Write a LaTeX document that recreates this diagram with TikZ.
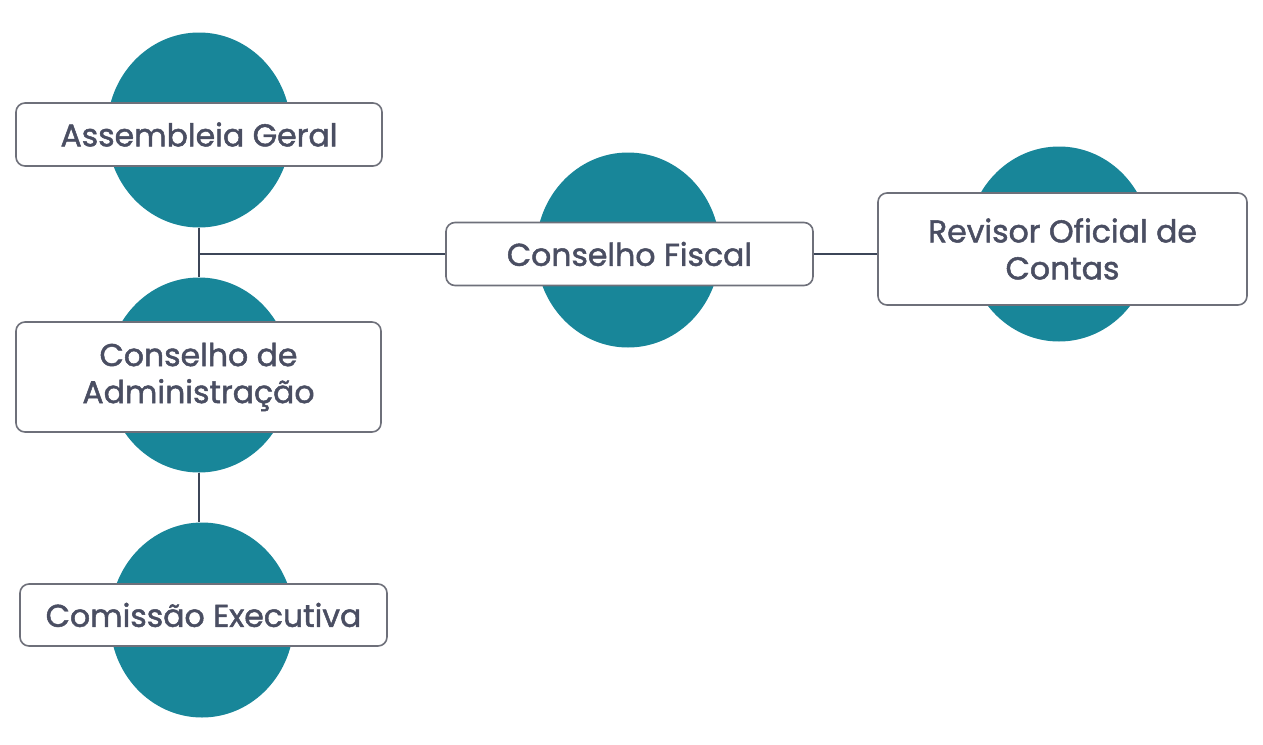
\documentclass[tikz,border=0pt]{standalone}
\usepackage{fontspec}
\setmainfont{Poppins}
\newfontfamily\cardfont{Poppins}[FakeBold=1.5]
\usetikzlibrary{shapes.geometric,positioning}
\definecolor{teal}{RGB}{24,134,153}
\definecolor{ink}{RGB}{74,78,98}
\definecolor{edge}{RGB}{110,112,122}
\definecolor{wire}{RGB}{60,70,88}

\begin{document}
\begin{tikzpicture}[x=1pt,y=-1pt,
    blob/.style={ellipse,fill=teal,draw=none,minimum width=184pt,minimum height=195pt,inner sep=0pt},
    card/.style={draw=edge,line width=1.6pt,fill=white,rounded corners=9pt,text=ink,align=center,
      font=\cardfont\fontsize{31.5}{37}\selectfont,inner sep=0pt,minimum height=63pt},
    wire/.style={draw=wire,line width=2.2pt}]
                \useasboundingbox (0,0) rectangle (1263,744);

                % Circles behind the cards
                \node[blob] (agc) at (199,130) {};
                \node[blob] (cac) at (199,375) {};
                \node[blob] (cec) at (202,620) {};
                \node[blob] (cfc) at (628,250) {};
                \node[blob] (rocc) at (1059,244) {};

                % Cards
                \node[card,minimum width=366pt] (ag) at (199,134.5) {Assembleia Geral};
                \node[card,minimum width=365pt,minimum height=110pt] (ca) at (198.5,377) {Conselho de\\Administração};
                \node[card,minimum width=367pt,minimum height=62pt] (ce) at (203.5,615) {Comissão Executiva};
                \node[card,minimum width=367pt] (cf) at (629.5,254) {Conselho Fiscal};
                \node[card,minimum width=369pt,minimum height=112pt] (roc) at (1062.5,249) {Revisor Oficial de\\Contas};

                % Connections
                \coordinate (split) at (199,254);
                \draw[wire] (agc.south) -- (cac.north);
                \draw[wire] (split) -- (split -| cf.west);
                \draw[wire] (cac.south) -- (cac.south |- cec.north);
                \draw[wire] (cf.east) -- (roc.west |- cf.east);
\end{tikzpicture}
\end{document}
